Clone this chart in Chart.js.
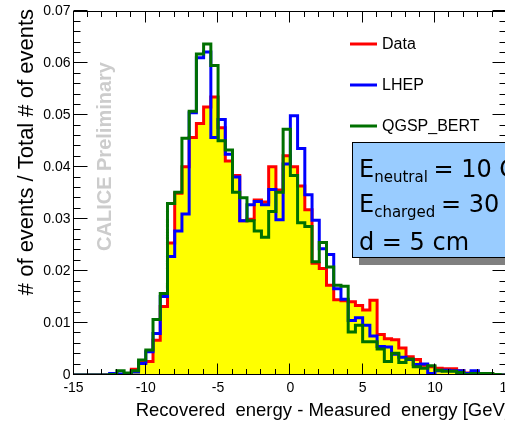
<!DOCTYPE html>
<html><head><meta charset="utf-8">
<script src="https://cdn.jsdelivr.net/npm/chart.js@4.4.1/dist/chart.umd.min.js"></script>
<style>
html,body{margin:0;padding:0;overflow:hidden;background:#fff;width:505px;height:421px}
#wrap{position:absolute;left:0;top:0;width:520px;height:421px}
</style>
</head><body><div id="wrap"><canvas id="c" width="520" height="421"></canvas></div>
<script>
// bin left edges (GeV), bin width 0.5
const binEdges = [-15,-14.5,-14,-13.5,-13,-12.5,-12,-11.5,-11,-10.5,-10,-9.5,-9,-8.5,-8,-7.5,-7,-6.5,-6,-5.5,
  -5,-4.5,-4,-3.5,-3,-2.5,-2,-1.5,-1,-0.5,0,0.5,1,1.5,2,2.5,3,3.5,4,4.5,
  5,5.5,6,6.5,7,7.5,8,8.5,9,9.5,10,10.5,11,11.5,12,12.5,13,13.5,14,14.5];
const dataValues = [0,0,0,0,0,0,0,0.0003,0.0011,0.0024,0.0026,0.0067,0.0132,0.0254,0.0350,0.0401,0.0457,0.0484,0.0516,0.0535,
  0.0476,0.0412,0.0384,0.0297,0.0300,0.0337,0.0333,0.0401,0.0356,0.0422,0.0401,0.0364,0.0318,0.0215,0.0205,0.0173,0.0145,0.0143,0.0141,0.0134,
  0.0125,0.0144,0.0078,0.0070,0.0068,0.0052,0.0035,0.0030,0.0019,0.0016,0.0013,0.0012,0.0012,0.0008,0.0004,0.0005,0.0003,0.0003,0.0001,0];
const lhepValues = [0,0,0,0,0,0.0003,0.0002,0.0003,0.0006,0.0022,0.0045,0.0080,0.0151,0.0228,0.0277,0.0310,0.0505,0.0611,0.0622,0.0457,
  0.0492,0.0425,0.0381,0.0297,0.0328,0.0334,0.0328,0.0357,0.0299,0.0406,0.0499,0.0436,0.0347,0.0298,0.0243,0.0232,0.0166,0.0146,0.0105,0.0110,
  0.0096,0.0075,0.0055,0.0054,0.0040,0.0034,0.0030,0.0020,0.0021,0.0003,0.0008,0.0009,0.0008,0.0008,0.0003,0.0008,0.0003,0.0001,0,0];
const qgspValues = [0,0,0,0,0,0.0001,0.0008,0.0004,0.0008,0.0029,0.0048,0.0107,0.0157,0.0330,0.0352,0.0456,0.0508,0.0618,0.0637,0.0596,
  0.0451,0.0433,0.0352,0.0341,0.0297,0.0277,0.0265,0.0315,0.0352,0.0473,0.0384,0.0293,0.0286,0.0218,0.0255,0.0208,0.0173,0.0171,0.0083,0.0096,
  0.0064,0.0064,0.0050,0.0026,0.0042,0.0024,0.0031,0.0016,0.0013,0.0018,0.0009,0.0007,0.0007,0.0005,0.0001,0.0003,0.0003,0.0003,0.0001,0];

const xTickValues = [-15,-10,-5,0,5,10,15];
const xTickLabels = ['-15','-10','-5','0','5','10','15'];
const yTickValues = [0,0.01,0.02,0.03,0.04,0.05,0.06,0.07];
const yTickLabels = ['0','0.01','0.02','0.03','0.04','0.05','0.06','0.07'];
const seriesNames = ['Data','LHEP','QGSP_BERT'];
const seriesColors = ['#ff0000','#0000ff','#007000'];
const xTitle = 'Recovered  energy - Measured  energy [GeV]';
const yTitle = '# of events / Total # of events';
const watermark = 'CALICE Preliminary';
const boxLines = [
  {main:'E', sub:'neutral', rest:' = 10 GeV'},
  {main:'E', sub:'charged', rest:' = 30 GeV'},
  {main:'d = 5 cm', sub:'', rest:''}
];

const binWidth = binEdges[1] - binEdges[0];
function steps(vals){
  const pts = binEdges.map((e,i)=>({x:e, y:vals[i]}));
  pts.push({x: binEdges[binEdges.length-1] + binWidth, y: vals[vals.length-1]});
  return pts;
}

const deco = {
  id:'deco',
  beforeDatasetsDraw(chart){
    const ctx = chart.ctx;
    ctx.save();
    ctx.translate(105, 156.5);
    ctx.rotate(-Math.PI/2);
    ctx.font = 'bold 20px "Liberation Sans", Arial, sans-serif';
    ctx.fillStyle = '#cccccc';
    ctx.textAlign = 'center';
    ctx.textBaseline = 'middle';
    ctx.fillText(watermark, 0, 0);
    ctx.restore();
  },
  afterDatasetsDraw(chart){
    const ctx = chart.ctx, ca = chart.chartArea;
    const xs = chart.scales.x, ys = chart.scales.y;
    ctx.save();
    ctx.strokeStyle = '#000';
    ctx.lineWidth = 1;
    const L = Math.round(ca.left)-0.5, R = Math.round(ca.right)-0.5, T = Math.round(ca.top)+0.5, B = Math.round(ca.bottom)-0.5;
    ctx.strokeRect(L, T, R-L, B-T);
    ctx.beginPath();
    for (let v=-15; v<=15; v++){
      const px = Math.round(xs.getPixelForValue(v))-0.5;
      const len = (v%5===0) ? 11 : 5.5;
      ctx.moveTo(px, B); ctx.lineTo(px, B-len);
      ctx.moveTo(px, T); ctx.lineTo(px, T+len);
    }
    for (let k=0; k<=35; k++){
      const py = Math.round(ys.getPixelForValue(k*0.002))-0.5;
      const len = (k%5===0) ? 14 : 7;
      ctx.moveTo(L, py); ctx.lineTo(L+len, py);
      ctx.moveTo(R, py); ctx.lineTo(R-len, py);
    }
    ctx.stroke();

    // axis titles
    ctx.fillStyle = '#000';
    ctx.font = '18.5px "Liberation Sans", Arial, sans-serif';
    ctx.textAlign = 'right';
    ctx.textBaseline = 'alphabetic';
    ctx.fillText(xTitle, 510, 416);
    ctx.save();
    ctx.translate(33, 9);
    ctx.rotate(-Math.PI/2);
    ctx.font = '22px "Liberation Sans", Arial, sans-serif';
    ctx.textAlign = 'right';
    ctx.fillText(yTitle, 0, 0);
    ctx.restore();

    // legend
    const legY = [44, 85, 126];
    ctx.font = '16px "Liberation Sans", Arial, sans-serif';
    ctx.textAlign = 'left';
    ctx.textBaseline = 'middle';
    seriesNames.forEach((n,i)=>{
      ctx.strokeStyle = seriesColors[i];
      ctx.lineWidth = 3;
      ctx.beginPath(); ctx.moveTo(350, legY[i]); ctx.lineTo(377, legY[i]); ctx.stroke();
      ctx.fillStyle = '#000';
      ctx.fillText(n, 382, legY[i]+1);
    });

    // text box with shadow
    ctx.fillStyle = '#808080';
    ctx.fillRect(359, 150, 260, 115);
    ctx.fillStyle = '#99ccff';
    ctx.fillRect(352, 142.5, 260, 115);
    ctx.strokeStyle = '#000'; ctx.lineWidth = 1;
    ctx.strokeRect(352.5, 142.5, 260, 115);
    const baseY = [177, 212, 250];
    ctx.fillStyle = '#000';
    ctx.textBaseline = 'alphabetic';
    boxLines.forEach((ln,i)=>{
      let x = 359;
      ctx.font = '24px "DejaVu Sans", sans-serif';
      ctx.fillText(ln.main, x, baseY[i]);
      x += ctx.measureText(ln.main).width;
      if (ln.sub){
        ctx.font = '15px "DejaVu Sans", sans-serif';
        ctx.fillText(ln.sub, x, baseY[i]+5);
        x += ctx.measureText(ln.sub).width;
      }
      if (ln.rest){
        ctx.font = '24px "DejaVu Sans", sans-serif';
        ctx.fillText(ln.rest, x - 2, baseY[i]);
      }
    });
    ctx.restore();
  }
};

const mk = (label, vals, color, order, fill) => ({
  label, data: steps(vals), stepped: 'before', borderColor: color, borderWidth: 3,
  backgroundColor: fill ? '#ffff00' : 'transparent', fill: fill ? 'origin' : false,
  pointRadius: 0, order, borderJoinStyle: 'miter'
});

new Chart(document.getElementById('c'), {
  type: 'line',
  data: { datasets: [
    mk(seriesNames[0], dataValues, seriesColors[0], 3, true),
    mk(seriesNames[1], lhepValues, seriesColors[1], 2, false),
    mk(seriesNames[2], qgspValues, seriesColors[2], 1, false)
  ]},
  options: {
    responsive: false, animation: false, devicePixelRatio: 1,
    layout: { padding: { top: 10, right: 12, left: 0, bottom: 0 } },
    plugins: { legend: { display: false }, tooltip: { enabled: false } },
    scales: {
      x: {
        type: 'linear', min: -15, max: 15,
        afterBuildTicks: s => { s.ticks = xTickValues.map(v => ({ value: v })); },
        afterFit: s => { s.height = 46; },
        ticks: { callback: (v, i) => xTickLabels[i], autoSkip: false, maxRotation: 0,
          font: { family: '"Liberation Sans", Arial, sans-serif', size: 14 }, color: '#000', padding: 5 },
        grid: { display: false, drawTicks: false }, border: { display: false }
      },
      y: {
        type: 'linear', min: 0, max: 0.07,
        afterBuildTicks: s => { s.ticks = yTickValues.map(v => ({ value: v })); },
        afterFit: s => { s.width = 73.5; },
        ticks: { callback: (v, i) => yTickLabels[i], autoSkip: false,
          font: { family: '"Liberation Sans", Arial, sans-serif', size: 14 }, color: '#000', padding: 3 },
        grid: { display: false, drawTicks: false }, border: { display: false }
      }
    }
  },
  plugins: [deco]
});
</script>
</body></html>
